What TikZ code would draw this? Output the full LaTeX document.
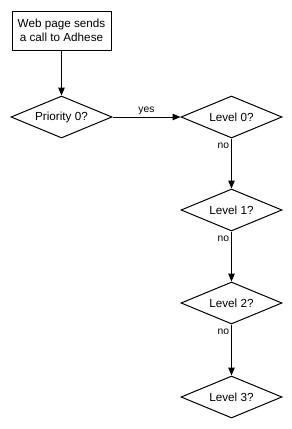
\documentclass[tikz,border=0pt]{standalone}
\usepackage{fontspec}
\setmainfont{Liberation Sans}
\usetikzlibrary{shapes.geometric,arrows.meta}
\begin{document}
\begin{tikzpicture}[x=1pt,y=-1pt,
  startbox/.style={draw,line width=1pt,minimum width=99pt,minimum height=39pt,inner sep=0pt,align=center,font=\fontsize{11.7}{14.5}\selectfont},
  decision/.style={draw,diamond,line width=1pt,aspect=2.4,inner sep=0pt,minimum width=101pt,minimum height=42pt,font=\fontsize{11.7}{13}\selectfont},
  flow/.style={draw,line width=1pt,-{Triangle[length=8pt,width=6.5pt]}},
  lbl/.style={font=\fontsize{10.3}{12}\selectfont,inner sep=2pt}]
\useasboundingbox (0,0) rectangle (292,429);
\node[startbox] (b) at (61.5,30.5) {Web page sends\\a call to Adhese};
\node[decision] (p) at (61.5,117) {Priority 0?};
\node[decision] (l0) at (231.5,117) {Level 0?};
\node[decision] (l1) at (231.5,210) {Level 1?};
\node[decision] (l2) at (231.5,303) {Level 2?};
\node[decision] (l3) at (231.5,397) {Level 3?};
\draw[flow] (b) -- (p);
\draw[flow] (p) -- node[lbl,above] {yes} (l0);
\draw[flow] (l0) -- node[lbl,pos=0.15,left] {no} (l1);
\draw[flow] (l1) -- node[lbl,pos=0.15,left] {no} (l2);
\draw[flow] (l2) -- node[lbl,pos=0.15,left] {no} (l3);
\end{tikzpicture}
\end{document}
